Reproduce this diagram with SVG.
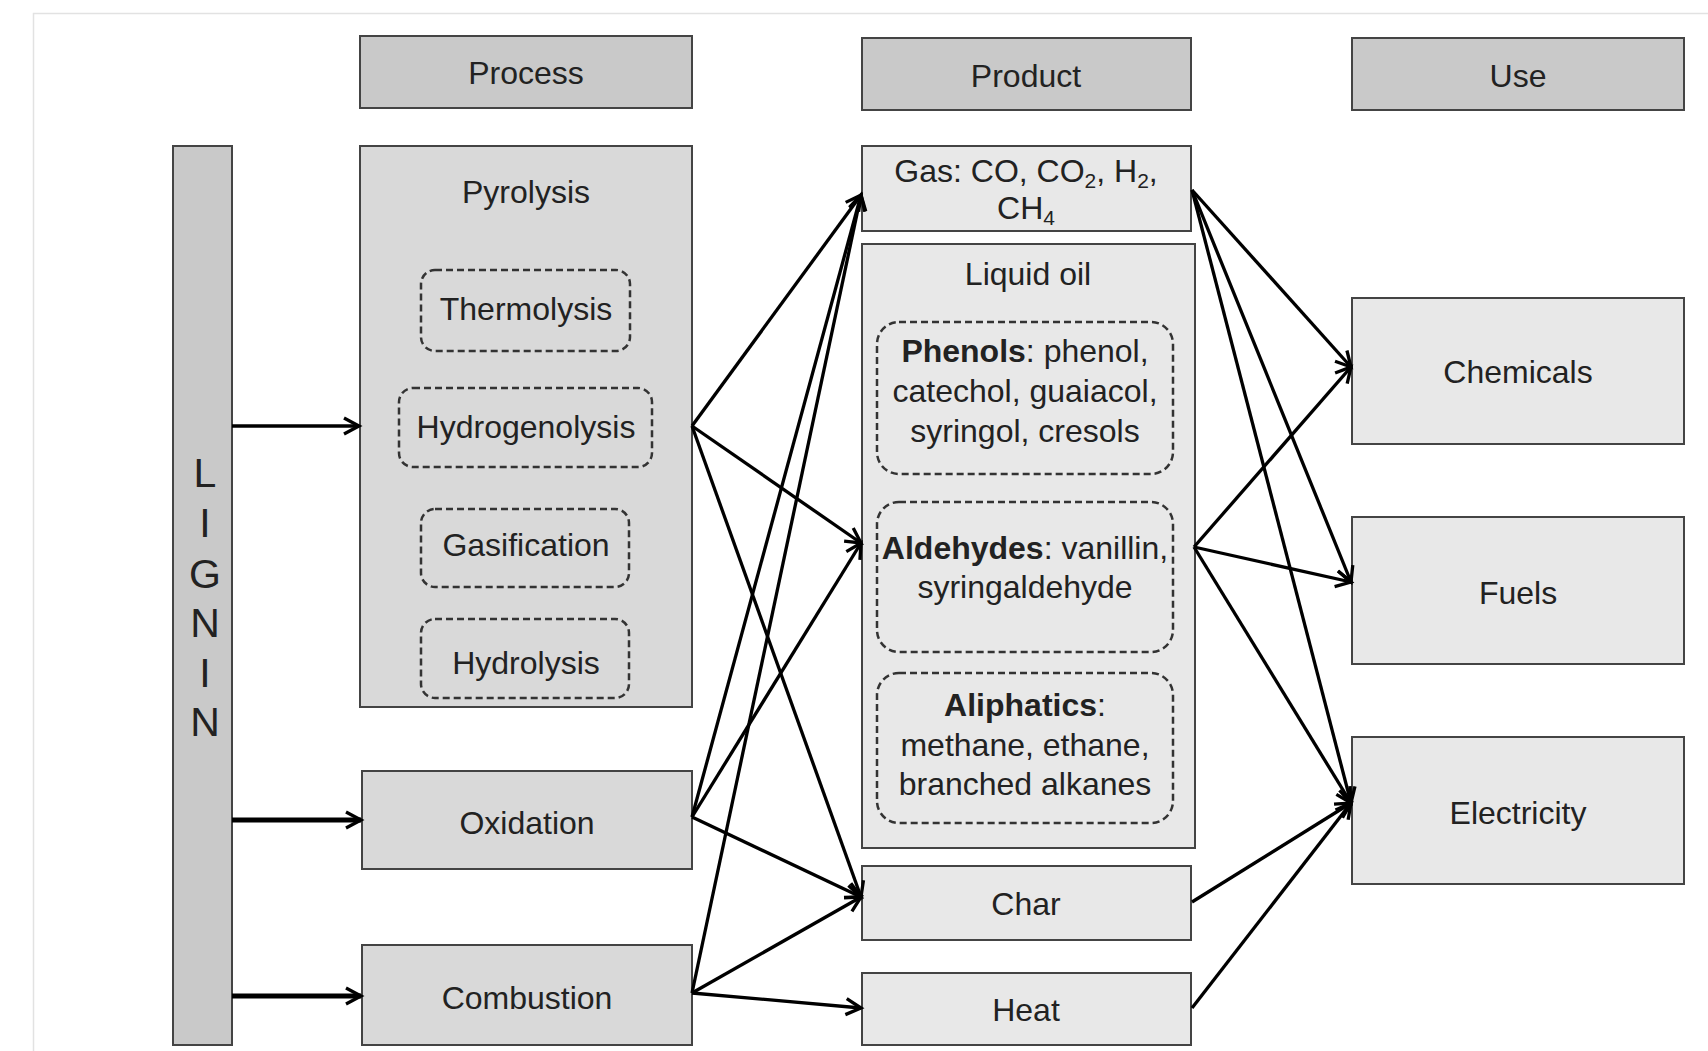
<svg xmlns="http://www.w3.org/2000/svg" width="1708" height="1051" viewBox="0 0 1708 1051">
<style>
text{font-family:"Liberation Sans",Arial,sans-serif;font-size:32px;fill:#222;text-anchor:middle}
text.lg{font-size:41px}
.hdr{fill:#c9c9c9;stroke:#444;stroke-width:2}
.mid{fill:#d9d9d9;stroke:#444;stroke-width:2}
.lite{fill:#e8e8e8;stroke:#444;stroke-width:2}
.dash{fill:none;stroke:#333;stroke-width:2.5;stroke-dasharray:7 4}
.b{font-weight:bold}
.sub{font-size:21px}
.conn line{stroke:#000;stroke-width:3.3;marker-end:url(#ah)}
</style>
<defs>
<marker id="ah" markerUnits="userSpaceOnUse" markerWidth="24" markerHeight="24" refX="18" refY="11" orient="auto">
<path d="M3,3 L18,11 L3,19" fill="none" stroke="#000" stroke-width="3.3" stroke-linejoin="miter"/>
</marker>
</defs>
<rect x="0" y="0" width="1708" height="1051" fill="#fff"/>
<path d="M33.5,1051 V13.5 H1708" fill="none" stroke="#e2e2e2" stroke-width="1.5"/>

<g id="hdr-process"><rect class="hdr" x="360" y="36" width="332" height="72"/><text x="526" y="84">Process</text></g>
<g id="hdr-product"><rect class="hdr" x="862" y="38" width="329" height="72"/><text x="1026" y="87">Product</text></g>
<g id="hdr-use"><rect class="hdr" x="1352" y="38" width="332" height="72"/><text x="1518" y="87">Use</text></g>

<g id="lignin"><rect class="hdr" x="173" y="146" width="59" height="899"/>
<text class="lg" x="205" y="487">L</text><text class="lg" x="205" y="537">I</text><text class="lg" x="205" y="588">G</text><text class="lg" x="205" y="637">N</text><text class="lg" x="205" y="687">I</text><text class="lg" x="205" y="736">N</text></g>

<g id="pyrolysis"><rect class="mid" x="360" y="146" width="332" height="561"/><text x="526" y="203">Pyrolysis</text></g>
<g id="thermolysis"><rect class="dash" x="421" y="270" width="209" height="81" rx="14"/><text x="526" y="320">Thermolysis</text></g>
<g id="hydrogenolysis"><rect class="dash" x="399" y="388" width="253" height="79" rx="14"/><text x="526" y="438">Hydrogenolysis</text></g>
<g id="gasification"><rect class="dash" x="421" y="509" width="208" height="78" rx="14"/><text x="526" y="556">Gasification</text></g>
<g id="hydrolysis"><rect class="dash" x="421" y="619" width="208" height="79" rx="14"/><text x="526" y="674">Hydrolysis</text></g>
<g id="oxidation"><rect class="mid" x="362" y="771" width="330" height="98"/><text x="527" y="834">Oxidation</text></g>
<g id="combustion"><rect class="mid" x="362" y="945" width="330" height="100"/><text x="527" y="1009">Combustion</text></g>

<g id="gas"><rect class="lite" x="862" y="146" width="329" height="85"/>
<text x="1026" y="182">Gas: CO, CO<tspan class="sub" dy="6">2</tspan><tspan dy="-6">, H</tspan><tspan class="sub" dy="6">2</tspan><tspan dy="-6">,</tspan></text>
<text x="1026" y="219">CH<tspan class="sub" dy="6">4</tspan></text></g>
<g id="liquid-oil"><rect class="lite" x="862" y="244" width="333" height="604"/><text x="1028" y="285">Liquid oil</text></g>
<g id="phenols"><rect class="dash" x="877" y="322" width="296" height="152" rx="22"/>
<text x="1025" y="362"><tspan class="b">Phenols</tspan>: phenol,</text><text x="1025" y="402">catechol, guaiacol,</text><text x="1025" y="442">syringol, cresols</text></g>
<g id="aldehydes"><rect class="dash" x="877" y="502" width="296" height="150" rx="22"/>
<text x="1025" y="559"><tspan class="b">Aldehydes</tspan>: vanillin,</text><text x="1025" y="598">syringaldehyde</text></g>
<g id="aliphatics"><rect class="dash" x="877" y="673" width="296" height="150" rx="22"/>
<text x="1025" y="716" class="b">Aliphatics<tspan style="font-weight:normal">:</tspan></text><text x="1025" y="756">methane, ethane,</text><text x="1025" y="795">branched alkanes</text></g>
<g id="char"><rect class="lite" x="862" y="866" width="329" height="74"/><text x="1026" y="915">Char</text></g>
<g id="heat"><rect class="lite" x="862" y="973" width="329" height="72"/><text x="1026" y="1021">Heat</text></g>

<g id="chemicals"><rect class="lite" x="1352" y="298" width="332" height="146"/><text x="1518" y="383">Chemicals</text></g>
<g id="fuels"><rect class="lite" x="1352" y="517" width="332" height="147"/><text x="1518" y="604">Fuels</text></g>
<g id="electricity"><rect class="lite" x="1352" y="737" width="332" height="147"/><text x="1518" y="824">Electricity</text></g>

<g id="connectors" class="conn">
<line x1="232" y1="426" x2="359" y2="426"/>
<line x1="232" y1="820" x2="361" y2="820" style="stroke-width:5"/>
<line x1="232" y1="996" x2="361" y2="996" style="stroke-width:5"/>
<line x1="692" y1="426" x2="861" y2="195"/>
<line x1="692" y1="426" x2="861" y2="543"/>
<line x1="692" y1="426" x2="861" y2="897"/>
<line x1="692" y1="817" x2="861" y2="195"/>
<line x1="692" y1="817" x2="861" y2="543"/>
<line x1="692" y1="817" x2="861" y2="897"/>
<line x1="692" y1="993" x2="861" y2="195"/>
<line x1="692" y1="993" x2="861" y2="897"/>
<line x1="692" y1="993" x2="861" y2="1008"/>
<line x1="1192" y1="190" x2="1351" y2="367"/>
<line x1="1192" y1="190" x2="1351" y2="582"/>
<line x1="1192" y1="190" x2="1351" y2="803"/>
<line x1="1194" y1="547" x2="1351" y2="367"/>
<line x1="1194" y1="547" x2="1351" y2="582"/>
<line x1="1194" y1="547" x2="1351" y2="803"/>
<line x1="1192" y1="902" x2="1351" y2="803"/>
<line x1="1192" y1="1008" x2="1351" y2="803"/>
</g>
</svg>
